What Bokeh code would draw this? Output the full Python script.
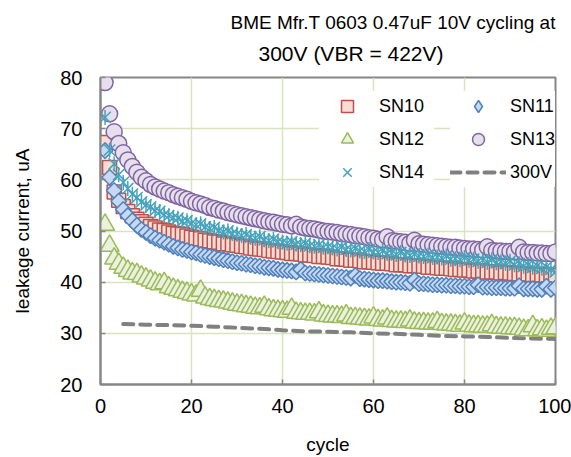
from bokeh.plotting import figure
from bokeh.models import Legend, LegendItem, Title, FixedTicker
from bokeh.embed import file_html
from bokeh.resources import INLINE
import numpy as np

cycles = list(range(1, 101))

sn10 = [67.3, 62.4, 57.6, 56.0, 54.8, 53.8, 53.0, 52.3, 51.8, 51.3,
        50.9, 50.6, 50.2, 50.1, 49.8, 49.5, 49.4, 49.3, 49.0, 48.8,
        48.6, 48.5, 48.2, 48.1, 47.9, 47.8, 47.5, 47.5, 47.3, 47.2,
        47.0, 46.9, 46.7, 46.6, 46.5, 46.4, 46.2, 46.1, 46.0, 45.9,
        45.8, 45.6, 45.6, 45.5, 45.3, 45.3, 45.2, 45.0, 45.0, 44.9,
        44.8, 44.6, 44.6, 44.5, 44.3, 44.3, 44.2, 44.0, 44.0, 43.9,
        43.8, 43.7, 43.7, 43.6, 43.4, 43.4, 43.4, 43.2, 43.2, 43.1,
        43.1, 42.9, 42.9, 42.8, 42.7, 42.7, 42.6, 42.5, 42.5, 42.4,
        42.4, 42.2, 42.2, 42.2, 42.0, 42.0, 42.0, 41.8, 41.9, 41.8,
        41.7, 41.6, 41.6, 41.6, 41.4, 41.5, 41.4, 41.3, 41.3, 41.3]

sn11 = [65.7, 60.5, 57.9, 55.8, 54.2, 53.0, 52.0, 51.1, 50.3, 49.7,
        49.1, 48.6, 48.2, 47.8, 47.4, 47.0, 46.7, 46.4, 46.2, 45.9,
        45.7, 45.4, 45.2, 45.0, 44.8, 44.6, 44.4, 44.2, 44.0, 43.8,
        43.7, 43.5, 43.4, 43.2, 43.1, 42.9, 42.8, 42.7, 42.5, 42.4,
        42.3, 42.2, 42.0, 42.5, 41.8, 41.7, 41.6, 41.5, 41.4, 41.3,
        41.2, 41.1, 41.0, 40.9, 40.8, 41.3, 40.7, 40.6, 40.5, 40.4,
        40.3, 40.3, 40.2, 40.1, 40.0, 40.0, 39.9, 39.8, 40.4, 39.7,
        39.7, 39.6, 39.5, 39.5, 39.4, 39.4, 39.3, 39.3, 39.2, 39.2,
        39.1, 39.1, 39.5, 39.0, 39.0, 38.9, 38.9, 38.9, 38.8, 38.8,
        38.8, 39.3, 38.7, 38.7, 38.7, 38.6, 38.6, 39.2, 38.6, 38.9]

sn12 = [51.2, 47.1, 44.6, 43.6, 42.8, 42.2, 41.7, 41.6, 41.1, 40.7,
        40.3, 39.9, 39.6, 39.8, 39.0, 38.7, 38.4, 38.1, 37.9, 37.6,
        37.4, 38.3, 37.0, 36.7, 36.5, 36.3, 36.2, 36.0, 35.8, 35.6,
        35.5, 35.3, 35.2, 35.0, 34.9, 35.2, 34.7, 34.5, 34.4, 34.3,
        34.2, 34.8, 34.0, 33.9, 33.8, 33.8, 33.7, 34.1, 33.5, 33.4,
        33.3, 33.3, 33.2, 33.5, 33.0, 33.0, 32.9, 32.8, 32.7, 33.1,
        32.6, 32.5, 32.9, 32.4, 32.3, 32.3, 32.2, 32.5, 32.1, 32.0,
        32.0, 31.9, 31.9, 32.2, 31.8, 31.7, 31.7, 31.6, 31.5, 31.9,
        31.5, 31.4, 31.4, 31.3, 31.3, 31.6, 31.2, 31.1, 31.1, 31.0,
        31.0, 30.9, 30.7, 30.6, 31.4, 30.6, 30.8, 30.5, 30.9, 31.0]

sn13 = [79.0, 72.9, 69.4, 67.1, 65.3, 63.9, 62.6, 61.5, 60.5, 59.8,
        59.1, 58.6, 58.2, 57.8, 57.5, 57.1, 56.8, 56.5, 56.2, 55.8,
        55.5, 55.3, 55.0, 54.6, 54.4, 54.1, 53.9, 53.6, 53.4, 53.2,
        53.0, 52.8, 52.6, 52.4, 52.2, 52.0, 51.8, 51.7, 51.5, 51.3,
        51.2, 51.0, 51.3, 50.8, 50.6, 50.5, 50.4, 50.2, 50.0, 49.9,
        49.8, 49.7, 49.5, 49.4, 49.3, 49.1, 49.0, 48.9, 48.7, 48.6,
        48.4, 48.3, 48.9, 48.1, 48.0, 47.9, 47.8, 47.6, 48.2, 47.5,
        47.4, 47.3, 47.2, 47.1, 47.0, 46.9, 46.8, 46.8, 46.7, 46.6,
        46.5, 46.5, 46.4, 46.3, 46.9, 46.2, 46.1, 46.1, 46.0, 46.0,
        45.9, 46.8, 45.9, 45.8, 45.8, 45.7, 45.7, 45.6, 45.6, 45.9]

sn14 = [72.2, 65.8, 63.1, 61.0, 59.5, 58.3, 57.2, 56.5, 55.7, 55.1,
        54.7, 54.0, 53.8, 53.2, 53.0, 52.6, 52.5, 51.9, 52.0, 51.5,
        51.2, 51.4, 50.8, 50.5, 50.7, 50.1, 49.8, 50.0, 49.5, 49.4,
        49.1, 49.3, 48.8, 48.6, 48.9, 48.3, 48.1, 48.4, 47.9, 47.8,
        47.6, 47.9, 47.4, 47.3, 47.6, 47.1, 47.0, 47.3, 46.8, 46.9,
        46.7, 46.5, 46.9, 46.4, 46.3, 46.6, 46.1, 46.0, 46.4, 45.9,
        45.8, 46.1, 45.6, 45.7, 45.4, 45.8, 45.3, 45.2, 45.5, 45.1,
        45.0, 45.3, 44.8, 44.9, 44.7, 45.1, 44.5, 44.6, 44.4, 44.8,
        44.3, 44.5, 44.1, 44.3, 43.9, 44.4, 43.8, 44.0, 43.7, 44.1,
        43.4, 43.6, 43.1, 43.4, 42.9, 43.2, 42.7, 43.0, 42.5, 42.0]

v300_cycles = [5, 10, 15, 20, 25, 30, 35, 40, 45, 50,
               55, 60, 65, 70, 75, 80, 85, 90, 95, 100]
v300 = [31.8, 31.7, 31.6, 31.5, 31.3, 31.1, 30.9, 30.6, 30.4, 30.3,
        30.2, 30.0, 29.9, 29.7, 29.5, 29.4, 29.3, 29.1, 29.0, 28.9]

x_ticks = [0, 20, 40, 60, 80, 100]
y_ticks = [20, 30, 40, 50, 60, 70, 80]

title_line1 = "BME Mfr.T 0603 0.47uF 10V cycling at"
title_line2 = "300V (VBR = 422V)"

FONT = "Liberation Sans"
GRAY = "#868686"
STAR = "#45a3bd"

p = figure(width=571, height=457, x_range=(0, 100), y_range=(20, 80),
           output_backend="svg", toolbar_location=None,
           min_border_left=100, min_border_right=16,
           min_border_top=77, min_border_bottom=73)

p.title.text = title_line1
p.title.text_font = FONT
p.title.text_font_size = "19px"
p.title.text_font_style = "normal"
p.title.text_color = "black"
p.title.align = "left"
p.title.offset = 130
p.title.standoff = -11
p.add_layout(Title(text=title_line2, text_font=FONT, text_font_size="21px",
                   text_font_style="normal", text_color="black",
                   align="left", offset=158, standoff=25), "above")

p.background_fill_color = "white"
p.border_fill_color = "white"
p.outline_line_color = GRAY
p.outline_line_width = 2

for ax in (p.xaxis[0], p.yaxis[0]):
    ax.axis_line_color = GRAY
    ax.axis_line_width = 2
    ax.major_tick_line_color = GRAY
    ax.major_tick_line_width = 1.5
    ax.major_tick_in = 5
    ax.major_tick_out = 0
    ax.minor_tick_line_color = None
    ax.major_label_text_font = FONT
    ax.major_label_text_font_size = "20px"
    ax.major_label_text_color = "black"
    ax.axis_label_text_font = FONT
    ax.axis_label_text_font_size = "19px"
    ax.axis_label_text_font_style = "normal"
    ax.axis_label_text_color = "black"

p.xaxis.ticker = FixedTicker(ticks=x_ticks)
p.yaxis.ticker = FixedTicker(ticks=y_ticks)
p.xaxis.axis_label = "cycle"
p.yaxis.axis_label = "leakage current, uA"
p.xaxis.major_label_standoff = 14
p.yaxis.major_label_standoff = 18
p.xaxis.axis_label_standoff = 18
p.yaxis.axis_label_standoff = 24

p.xgrid.ticker = FixedTicker(ticks=x_ticks)
p.ygrid.ticker = FixedTicker(ticks=y_ticks)
p.grid.grid_line_color = "#d7e4bd"
p.grid.grid_line_width = 1.5

r300 = p.line(v300_cycles, v300, line_color="#808080", line_width=4,
              line_dash="10 7", line_cap="round")

r10 = p.scatter(cycles, sn10, marker="square", size=14,
                fill_color="#f8ddd3", line_color="#c0504d", line_width=1.5)
r11 = p.scatter(cycles, sn11, marker="square", size=11, angle=np.pi / 4,
                fill_color="#c6d9f1", line_color="#4f81bd", line_width=1.5)
r12 = p.scatter(cycles, sn12, marker="triangle", size=19,
                fill_color="#ebf1de", line_color="#9bbb59", line_width=1.5)
r13 = p.scatter(cycles, sn13, marker="circle", size=16,
                fill_color="#e5e0ec", line_color="#8064a2", line_width=1.5)
r14a = p.scatter(cycles, sn14, marker="x", size=16,
                 line_color=STAR, line_width=1.5)
r14b = p.scatter(cycles, sn14, marker="dash", size=15, angle=np.pi / 2,
                 line_color=STAR, line_width=1.5)

# legend-only key for the diamond (legend glyphs are drawn unrotated);
# a single NaN point so nothing is drawn in the plot itself
r11_key = p.scatter([np.nan], [np.nan], marker="diamond", size=11,
                    fill_color="#c6d9f1", line_color="#4f81bd", line_width=1.5)

def make_legend(items, x, y, label_width):
    return Legend(items=items, location=(x, y), orientation="vertical",
                  glyph_width=56, glyph_height=30, label_height=20,
                  label_width=label_width, label_standoff=4, spacing=3,
                  padding=8, margin=0,
                  label_text_font=FONT, label_text_font_size="18px",
                  label_text_color="black",
                  border_line_color=None, background_fill_color="white",
                  background_fill_alpha=1.0)

leg1 = make_legend([LegendItem(label="SN10", renderers=[r10]),
                    LegendItem(label="SN12", renderers=[r12]),
                    LegendItem(label="SN14", renderers=[r14a])],
                   219, 197, 55)
leg2 = make_legend([LegendItem(label="SN11", renderers=[r11_key]),
                    LegendItem(label="SN13", renderers=[r13]),
                    LegendItem(label="300V", renderers=[r300])],
                   350, 197, 45)
p.add_layout(leg1)
p.add_layout(leg2)

open("out.html", "w").write(file_html(p, INLINE))
